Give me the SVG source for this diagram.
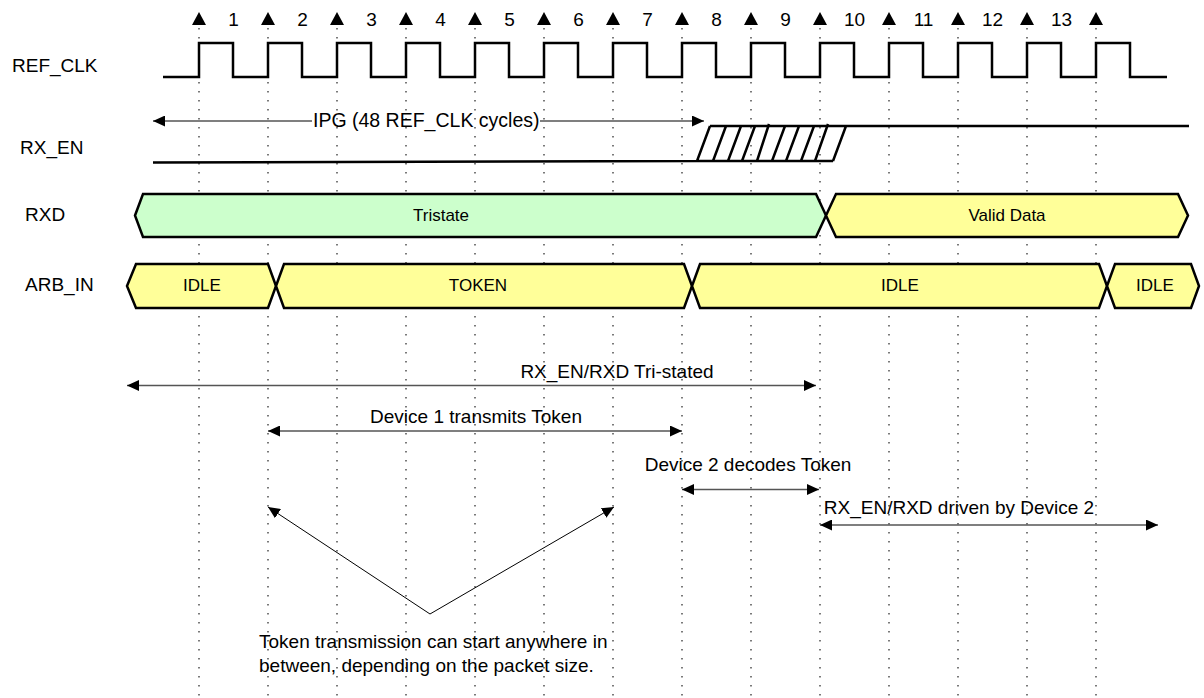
<svg xmlns="http://www.w3.org/2000/svg" width="1204" height="698" viewBox="0 0 1204 698">
<defs>
<style>
text{font-family:"Liberation Sans",Arial,sans-serif;fill:#000}
.lbl{font-size:19px}
.num{font-size:19px;text-anchor:middle}
.box{font-size:17px;text-anchor:middle}
.mid{text-anchor:middle}
.dot{stroke:#222;stroke-width:1.2;stroke-dasharray:1.5 7.5;fill:none}
.sig{stroke:#000;stroke-width:2.5;fill:none;stroke-linejoin:miter}
.bus{stroke:#000;stroke-width:2.5;stroke-linejoin:miter}
.green{fill:#CCFFCC}
.yellow{fill:#FFFF99}
.dim{stroke:#555;stroke-width:1.3;fill:none}
.ptr{stroke:#000;stroke-width:1;fill:none}
</style>
<marker id="ah" viewBox="0 0 12 11" refX="12" refY="5.5" markerWidth="12" markerHeight="11" markerUnits="userSpaceOnUse" orient="auto-start-reverse">
<path d="M0,0 L12,5.5 L0,11 z" fill="#000"/>
</marker>
</defs>
<rect width="1204" height="698" fill="#fff"/>

<g id="gridlines">
<path class="dot" d="M199,28V698 M268,28V698 M337,28V698 M406,28V698 M475,28V698 M544,28V698 M613,28V698 M682,28V698 M751,28V698 M820,28V698 M889,28V698 M958,28V698 M1027,28V698 M1096,28V698"/>
</g>

<g id="labels">
<text class="lbl" x="12" y="72">REF_CLK</text>
<text class="lbl" x="20" y="154">RX_EN</text>
<text class="lbl" x="25" y="221">RXD</text>
<text class="lbl" x="25" y="291">ARB_IN</text>
</g>

<g id="ref_clk">
<path class="sig" d="M163,77H199V43H233V77H268V43H302V77H337V43H371V77H406V43H440V77H475V43H509V77H544V43H578V77H613V43H647V77H682V43H716V77H751V43H785V77H820V43H854V77H889V43H923V77H958V43H992V77H1027V43H1061V77H1096V43H1130V77H1167"/>
<g fill="#000">
<polygon points="192,25 199,12 206,25"/>
<polygon points="261,25 268,12 275,25"/>
<polygon points="330,25 337,12 344,25"/>
<polygon points="399,25 406,12 413,25"/>
<polygon points="468,25 475,12 482,25"/>
<polygon points="537,25 544,12 551,25"/>
<polygon points="606,25 613,12 620,25"/>
<polygon points="675,25 682,12 689,25"/>
<polygon points="744,25 751,12 758,25"/>
<polygon points="813,25 820,12 827,25"/>
<polygon points="882,25 889,12 896,25"/>
<polygon points="951,25 958,12 965,25"/>
<polygon points="1020,25 1027,12 1034,25"/>
<polygon points="1089,25 1096,12 1103,25"/>
</g>
<text class="num" x="233.5" y="26">1</text>
<text class="num" x="302.5" y="26">2</text>
<text class="num" x="371.5" y="26">3</text>
<text class="num" x="440.5" y="26">4</text>
<text class="num" x="509.5" y="26">5</text>
<text class="num" x="578.5" y="26">6</text>
<text class="num" x="647.5" y="26">7</text>
<text class="num" x="716.5" y="26">8</text>
<text class="num" x="785.5" y="26">9</text>
<text class="num" x="854.5" y="26">10</text>
<text class="num" x="923.5" y="26">11</text>
<text class="num" x="992.5" y="26">12</text>
<text class="num" x="1061.5" y="26">13</text>
</g>

<g id="rx_en">
<path class="sig" d="M153,162.5L697,161H833 M710,126H1189 M697,161L710,126 M833,161L846,126"/>
<path class="sig" stroke-width="2" d="M713,161L726,126 M728,161L741,126 M742,161L755,126 M757,161L769,124 M772,161L785,126 M786,161L799,126 M801,161L814,126 M815,161L828,124"/>
</g>

<g id="rxd">
<g id="rxd_tristate">
<polygon class="bus green" points="135,215.5 143,194 816,194 826,215.5 816,237 143,237"/>
<text class="box" x="441" y="221">Tristate</text>
</g>
<g id="rxd_valid">
<polygon class="bus yellow" points="826,215.5 836,194 1178,194 1188,215.5 1178,237 836,237"/>
<text class="box" x="1007" y="221">Valid Data</text>
</g>
</g>

<g id="arb_in">
<g id="arb_idle1">
<polygon class="bus yellow" points="127,286 136,264 268,264 276,286 268,308 136,308"/>
<text class="box" x="202" y="291">IDLE</text>
</g>
<g id="arb_token">
<polygon class="bus yellow" points="276,286 284,264 684,264 692,286 684,308 284,308"/>
<text class="box" x="478" y="291">TOKEN</text>
</g>
<g id="arb_idle2">
<polygon class="bus yellow" points="692,286 700,264 1099,264 1107,286 1099,308 700,308"/>
<text class="box" x="900" y="291">IDLE</text>
</g>
<g id="arb_idle3">
<polygon class="bus yellow" points="1107,286 1115,264 1191,264 1199,286 1191,308 1115,308"/>
<text class="box" x="1155" y="291">IDLE</text>
</g>
</g>

<g id="connectors">
<line class="dim" x1="153" y1="121" x2="312" y2="121" marker-start="url(#ah)"/>
<line class="dim" x1="540" y1="121" x2="704" y2="121" marker-end="url(#ah)"/>
<line class="dim" x1="127" y1="385.5" x2="816" y2="385.5" marker-start="url(#ah)" marker-end="url(#ah)"/>
<line class="dim" x1="268" y1="431" x2="682" y2="431" marker-start="url(#ah)" marker-end="url(#ah)"/>
<line class="dim" x1="682" y1="489.5" x2="819" y2="489.5" marker-start="url(#ah)" marker-end="url(#ah)"/>
<line class="dim" x1="820" y1="525" x2="1158" y2="525" marker-start="url(#ah)" marker-end="url(#ah)"/>
<line class="ptr" x1="430" y1="614" x2="268" y2="507" marker-end="url(#ah)"/>
<line class="ptr" x1="430" y1="614" x2="614" y2="507" marker-end="url(#ah)"/>
</g>

<g id="annotations">
<text class="lbl" x="313" y="127" style="font-size:19.5px">IPG (48 REF_CLK cycles)</text>
<text class="lbl mid" x="617" y="378">RX_EN/RXD Tri-stated</text>
<text class="lbl mid" x="476" y="423">Device 1 transmits Token</text>
<text class="lbl mid" x="748" y="471">Device 2 decodes Token</text>
<text class="lbl mid" x="959" y="514">RX_EN/RXD driven by Device 2</text>
<text class="lbl" x="259" y="648">Token transmission can start anywhere in</text>
<text class="lbl" x="259" y="672">between, depending on the packet size.</text>
</g>
</svg>
